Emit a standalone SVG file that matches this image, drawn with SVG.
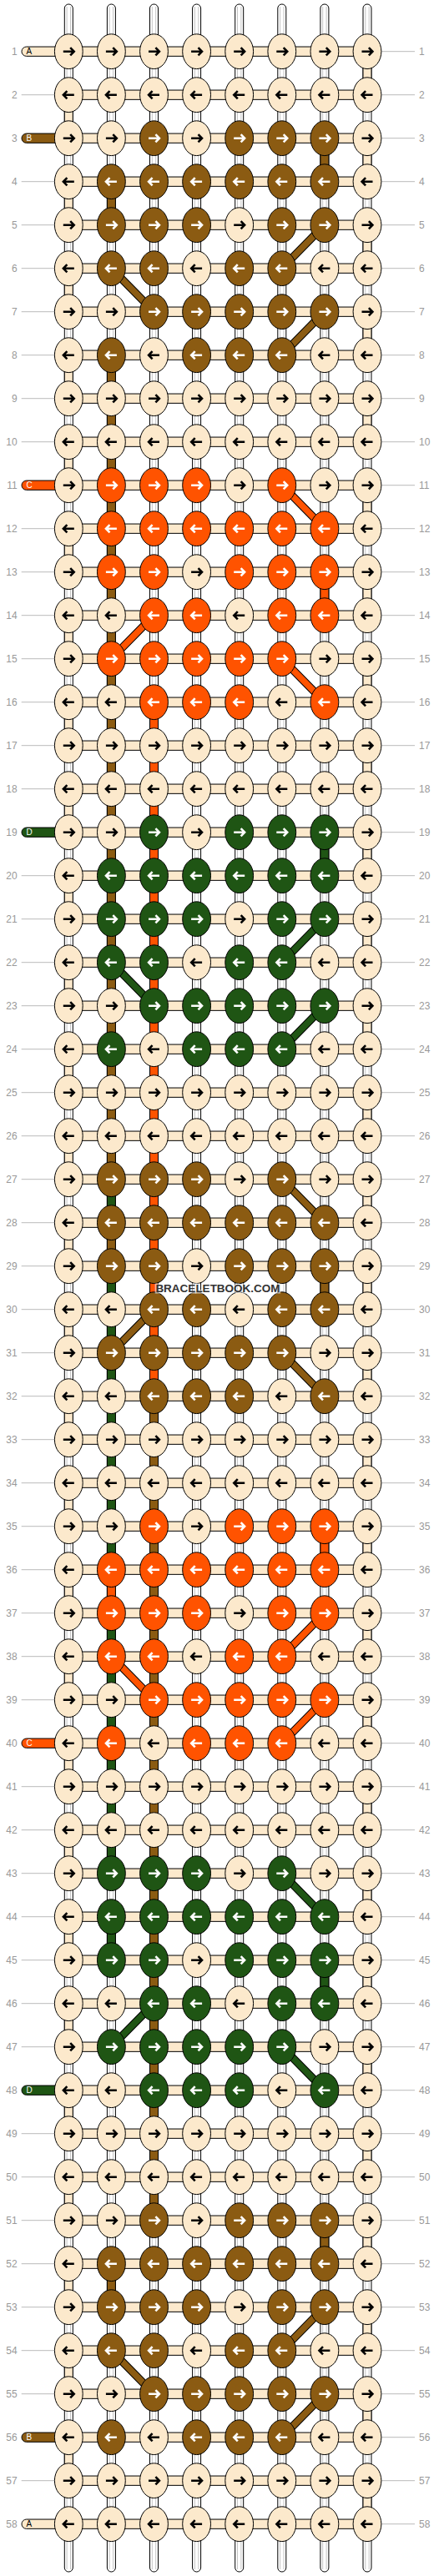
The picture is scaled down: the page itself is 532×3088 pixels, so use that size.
<svg xmlns="http://www.w3.org/2000/svg" width="532" height="3088" viewBox="0 0 532 3088">
<style>
.lb{font-family:"Liberation Sans",Arial,sans-serif;font-size:12px;fill:#999}
.e{text-anchor:end}
.gl{stroke:#bbb;stroke-width:1;fill:none}
.vs{stroke:#000;stroke-width:1}
.fa{fill:#FCE9CC}.fb{fill:#8B5B12}.fo{fill:#FF5300}.fg{fill:#1F5514}
.do{stroke:#000;stroke-width:9.6;fill:none}
.di{stroke-width:7.6;fill:none}
.sb{stroke:#000;stroke-width:1}
.sl{font-family:"Liberation Sans",Arial,sans-serif;font-size:10px}
</style>
<defs>
<ellipse id="ke" rx="16.9" ry="20.9" stroke="#000" stroke-width="1"/>
<path id="ar" d="M-6.5,0H6M1.9,-4.6L6.4,0L1.9,4.6" fill="none" stroke-width="2.6"/>
<path id="al" d="M6.5,0H-6M-1.9,-4.6L-6.4,0L-1.9,4.6" fill="none" stroke-width="2.6"/>
<g id="LR"><use href="#ke" fill="#FCE9CC"/><use href="#ar" stroke="#000"/></g>
<g id="LL"><use href="#ke" fill="#FCE9CC"/><use href="#al" stroke="#000"/></g>
<g id="BR"><use href="#ke" fill="#8B5B12"/><use href="#ar" stroke="#fff"/></g>
<g id="BL"><use href="#ke" fill="#8B5B12"/><use href="#al" stroke="#fff"/></g>
<g id="OR"><use href="#ke" fill="#FF5300"/><use href="#ar" stroke="#fff"/></g>
<g id="OL"><use href="#ke" fill="#FF5300"/><use href="#al" stroke="#fff"/></g>
<g id="GR"><use href="#ke" fill="#1F5514"/><use href="#ar" stroke="#fff"/></g>
<g id="GL"><use href="#ke" fill="#1F5514"/><use href="#al" stroke="#fff"/></g>
<rect id="hb" x="82.3" y="-5.65" width="357.7" height="11.3" fill="#FCE9CC" stroke="#000" stroke-width="1"/>
<g id="col"><rect x="-5" y="5" width="10" height="3078" rx="5" fill="#fff" stroke="#000" stroke-width="1"/><path d="M-2.2,8V3080M2.2,8V3080" stroke="#c4c4c4" stroke-width="1"/></g>
</defs>
<g id="connectors">
<g id="strings">
<use href="#col" x="82.3"/><use href="#col" x="133.4"/><use href="#col" x="184.5"/><use href="#col" x="235.6"/><use href="#col" x="286.7"/><use href="#col" x="337.8"/><use href="#col" x="388.9"/><use href="#col" x="440"/>
</g>
<g transform="translate(0,61.7)">
<path class="vs fa" d="M435,0h10v52h-10zM435,104h10v52h-10zM435,208h10v52h-10zM435,312h10v52h-10zM435,416h10v52h-10zM435,520h10v52h-10zM435,624h10v52h-10zM435,728h10v52h-10zM435,832h10v52h-10zM435,936h10v52h-10zM435,1040h10v52h-10zM435,1144h10v52h-10zM435,1248h10v52h-10zM435,1352h10v52h-10zM435,1456h10v52h-10zM435,1560h10v52h-10zM435,1664h10v52h-10zM435,1768h10v52h-10zM435,1872h10v52h-10zM435,1976h10v52h-10zM435,2080h10v52h-10zM435,2184h10v52h-10zM435,2288h10v52h-10zM435,2392h10v52h-10zM435,2496h10v52h-10zM435,2600h10v52h-10zM435,2704h10v52h-10zM435,2808h10v52h-10zM435,2912h10v52h-10zM77.3,52h10v52h-10zM77.3,156h10v52h-10zM77.3,260h10v52h-10zM77.3,364h10v52h-10zM77.3,468h10v52h-10zM77.3,572h10v52h-10zM77.3,676h10v52h-10zM77.3,780h10v52h-10zM77.3,884h10v52h-10zM77.3,988h10v52h-10zM77.3,1092h10v52h-10zM77.3,1196h10v52h-10zM77.3,1300h10v52h-10zM77.3,1404h10v52h-10zM77.3,1508h10v52h-10zM77.3,1612h10v52h-10zM77.3,1716h10v52h-10zM77.3,1820h10v52h-10zM77.3,1924h10v52h-10zM77.3,2028h10v52h-10zM77.3,2132h10v52h-10zM77.3,2236h10v52h-10zM77.3,2340h10v52h-10zM77.3,2444h10v52h-10zM77.3,2548h10v52h-10zM77.3,2652h10v52h-10zM77.3,2756h10v52h-10zM77.3,2860h10v52h-10z"/>
<path class="vs fb" d="M383.9,104h10v52h-10zM383.9,1456h10v52h-10zM383.9,2600h10v52h-10zM128.4,156h10v52h-10zM128.4,364h10v988h-10zM128.4,1404h10v52h-10zM128.4,2652h10v52h-10zM179.5,1612h10v988h-10z"/>
<path class="vs fg" d="M128.4,1352h10v52h-10zM128.4,1456h10v364h-10zM128.4,1872h10v312h-10zM128.4,2236h10v52h-10zM383.9,936h10v52h-10zM383.9,2288h10v52h-10z"/>
<path class="vs fo" d="M128.4,1820h10v52h-10zM179.5,780h10v832h-10zM383.9,624h10v52h-10zM383.9,1768h10v52h-10z"/>
<g id="rowbars">
<use href="#hb" y="0"/><use href="#hb" y="52"/><use href="#hb" y="104"/><use href="#hb" y="156"/><use href="#hb" y="208"/><use href="#hb" y="260"/><use href="#hb" y="312"/><use href="#hb" y="364"/><use href="#hb" y="416"/><use href="#hb" y="468"/><use href="#hb" y="520"/><use href="#hb" y="572"/><use href="#hb" y="624"/><use href="#hb" y="676"/><use href="#hb" y="728"/><use href="#hb" y="780"/><use href="#hb" y="832"/><use href="#hb" y="884"/><use href="#hb" y="936"/><use href="#hb" y="988"/><use href="#hb" y="1040"/><use href="#hb" y="1092"/><use href="#hb" y="1144"/><use href="#hb" y="1196"/><use href="#hb" y="1248"/><use href="#hb" y="1300"/><use href="#hb" y="1352"/><use href="#hb" y="1404"/><use href="#hb" y="1456"/><use href="#hb" y="1508"/><use href="#hb" y="1560"/><use href="#hb" y="1612"/><use href="#hb" y="1664"/><use href="#hb" y="1716"/><use href="#hb" y="1768"/><use href="#hb" y="1820"/><use href="#hb" y="1872"/><use href="#hb" y="1924"/><use href="#hb" y="1976"/><use href="#hb" y="2028"/><use href="#hb" y="2080"/><use href="#hb" y="2132"/><use href="#hb" y="2184"/><use href="#hb" y="2236"/><use href="#hb" y="2288"/><use href="#hb" y="2340"/><use href="#hb" y="2392"/><use href="#hb" y="2444"/><use href="#hb" y="2496"/><use href="#hb" y="2548"/><use href="#hb" y="2600"/><use href="#hb" y="2652"/><use href="#hb" y="2704"/><use href="#hb" y="2756"/><use href="#hb" y="2808"/><use href="#hb" y="2860"/><use href="#hb" y="2912"/><use href="#hb" y="2964"/>
</g>
<g id="diagonals">
<path class="do" d="M388.9,208L337.8,260M133.4,260L184.5,312M388.9,312L337.8,364M388.9,1040L337.8,1092M133.4,1092L184.5,1144M388.9,1144L337.8,1196M388.9,1872L337.8,1924M133.4,1924L184.5,1976M388.9,1976L337.8,2028M388.9,2704L337.8,2756M133.4,2756L184.5,2808M388.9,2808L337.8,2860M337.8,520L388.9,572M184.5,676L133.4,728M337.8,728L388.9,780M337.8,1352L388.9,1404M184.5,1508L133.4,1560M337.8,1560L388.9,1612M337.8,2184L388.9,2236M184.5,2340L133.4,2392M337.8,2392L388.9,2444"/>
<path class="di" stroke="#8B5B12" d="M388.9,208L337.8,260M133.4,260L184.5,312M388.9,312L337.8,364M388.9,2704L337.8,2756M133.4,2756L184.5,2808M388.9,2808L337.8,2860M337.8,1352L388.9,1404M184.5,1508L133.4,1560M337.8,1560L388.9,1612"/>
<path class="di" stroke="#1F5514" d="M388.9,1040L337.8,1092M133.4,1092L184.5,1144M388.9,1144L337.8,1196M337.8,2184L388.9,2236M184.5,2340L133.4,2392M337.8,2392L388.9,2444"/>
<path class="di" stroke="#FF5300" d="M388.9,1872L337.8,1924M133.4,1924L184.5,1976M388.9,1976L337.8,2028M337.8,520L388.9,572M184.5,676L133.4,728M337.8,728L388.9,780"/>
</g>
</g>
</g>
<g id="rows">
<g id="row1" transform="translate(0,61.7)"><path class="gl" d="M457,0H497"/><text class="lb e" x="20.7" y="4.3">1</text><text class="lb" x="502" y="4.3">1</text><rect class="sb fa" x="26" y="-5.65" width="60" height="11.3" rx="5.65"/><text class="sl" x="31.5" y="3.6" fill="#000">A</text>
<g id="k1-1"><use href="#LR" x="82.3"/></g><g id="k1-2"><use href="#LR" x="133.4"/></g><g id="k1-3"><use href="#LR" x="184.5"/></g><g id="k1-4"><use href="#LR" x="235.6"/></g><g id="k1-5"><use href="#LR" x="286.7"/></g><g id="k1-6"><use href="#LR" x="337.8"/></g><g id="k1-7"><use href="#LR" x="388.9"/></g><g id="k1-8"><use href="#LR" x="440"/></g></g>
<g id="row2" transform="translate(0,113.7)"><path class="gl" d="M25.7,0H66M457,0H497"/><text class="lb e" x="20.7" y="4.3">2</text><text class="lb" x="502" y="4.3">2</text>
<g id="k2-1"><use href="#LL" x="82.3"/></g><g id="k2-2"><use href="#LL" x="133.4"/></g><g id="k2-3"><use href="#LL" x="184.5"/></g><g id="k2-4"><use href="#LL" x="235.6"/></g><g id="k2-5"><use href="#LL" x="286.7"/></g><g id="k2-6"><use href="#LL" x="337.8"/></g><g id="k2-7"><use href="#LL" x="388.9"/></g><g id="k2-8"><use href="#LL" x="440"/></g></g>
<g id="row3" transform="translate(0,165.7)"><path class="gl" d="M457,0H497"/><text class="lb e" x="20.7" y="4.3">3</text><text class="lb" x="502" y="4.3">3</text><rect class="sb fb" x="26" y="-5.65" width="60" height="11.3" rx="5.65"/><text class="sl" x="31.5" y="3.6" fill="#fff">B</text>
<g id="k3-1"><use href="#LR" x="82.3"/></g><g id="k3-2"><use href="#LR" x="133.4"/></g><g id="k3-3"><use href="#BR" x="184.5"/></g><g id="k3-4"><use href="#LR" x="235.6"/></g><g id="k3-5"><use href="#BR" x="286.7"/></g><g id="k3-6"><use href="#BR" x="337.8"/></g><g id="k3-7"><use href="#BR" x="388.9"/></g><g id="k3-8"><use href="#LR" x="440"/></g></g>
<g id="row4" transform="translate(0,217.7)"><path class="gl" d="M25.7,0H66M457,0H497"/><text class="lb e" x="20.7" y="4.3">4</text><text class="lb" x="502" y="4.3">4</text>
<g id="k4-1"><use href="#LL" x="82.3"/></g><g id="k4-2"><use href="#BL" x="133.4"/></g><g id="k4-3"><use href="#BL" x="184.5"/></g><g id="k4-4"><use href="#BL" x="235.6"/></g><g id="k4-5"><use href="#BL" x="286.7"/></g><g id="k4-6"><use href="#BL" x="337.8"/></g><g id="k4-7"><use href="#BL" x="388.9"/></g><g id="k4-8"><use href="#LL" x="440"/></g></g>
<g id="row5" transform="translate(0,269.7)"><path class="gl" d="M25.7,0H66M457,0H497"/><text class="lb e" x="20.7" y="4.3">5</text><text class="lb" x="502" y="4.3">5</text>
<g id="k5-1"><use href="#LR" x="82.3"/></g><g id="k5-2"><use href="#BR" x="133.4"/></g><g id="k5-3"><use href="#BR" x="184.5"/></g><g id="k5-4"><use href="#BR" x="235.6"/></g><g id="k5-5"><use href="#LR" x="286.7"/></g><g id="k5-6"><use href="#BR" x="337.8"/></g><g id="k5-7"><use href="#BR" x="388.9"/></g><g id="k5-8"><use href="#LR" x="440"/></g></g>
<g id="row6" transform="translate(0,321.7)"><path class="gl" d="M25.7,0H66M457,0H497"/><text class="lb e" x="20.7" y="4.3">6</text><text class="lb" x="502" y="4.3">6</text>
<g id="k6-1"><use href="#LL" x="82.3"/></g><g id="k6-2"><use href="#BL" x="133.4"/></g><g id="k6-3"><use href="#BL" x="184.5"/></g><g id="k6-4"><use href="#LL" x="235.6"/></g><g id="k6-5"><use href="#BL" x="286.7"/></g><g id="k6-6"><use href="#BL" x="337.8"/></g><g id="k6-7"><use href="#LL" x="388.9"/></g><g id="k6-8"><use href="#LL" x="440"/></g></g>
<g id="row7" transform="translate(0,373.7)"><path class="gl" d="M25.7,0H66M457,0H497"/><text class="lb e" x="20.7" y="4.3">7</text><text class="lb" x="502" y="4.3">7</text>
<g id="k7-1"><use href="#LR" x="82.3"/></g><g id="k7-2"><use href="#LR" x="133.4"/></g><g id="k7-3"><use href="#BR" x="184.5"/></g><g id="k7-4"><use href="#BR" x="235.6"/></g><g id="k7-5"><use href="#BR" x="286.7"/></g><g id="k7-6"><use href="#BR" x="337.8"/></g><g id="k7-7"><use href="#BR" x="388.9"/></g><g id="k7-8"><use href="#LR" x="440"/></g></g>
<g id="row8" transform="translate(0,425.7)"><path class="gl" d="M25.7,0H66M457,0H497"/><text class="lb e" x="20.7" y="4.3">8</text><text class="lb" x="502" y="4.3">8</text>
<g id="k8-1"><use href="#LL" x="82.3"/></g><g id="k8-2"><use href="#BL" x="133.4"/></g><g id="k8-3"><use href="#LL" x="184.5"/></g><g id="k8-4"><use href="#BL" x="235.6"/></g><g id="k8-5"><use href="#BL" x="286.7"/></g><g id="k8-6"><use href="#BL" x="337.8"/></g><g id="k8-7"><use href="#LL" x="388.9"/></g><g id="k8-8"><use href="#LL" x="440"/></g></g>
<g id="row9" transform="translate(0,477.7)"><path class="gl" d="M25.7,0H66M457,0H497"/><text class="lb e" x="20.7" y="4.3">9</text><text class="lb" x="502" y="4.3">9</text>
<g id="k9-1"><use href="#LR" x="82.3"/></g><g id="k9-2"><use href="#LR" x="133.4"/></g><g id="k9-3"><use href="#LR" x="184.5"/></g><g id="k9-4"><use href="#LR" x="235.6"/></g><g id="k9-5"><use href="#LR" x="286.7"/></g><g id="k9-6"><use href="#LR" x="337.8"/></g><g id="k9-7"><use href="#LR" x="388.9"/></g><g id="k9-8"><use href="#LR" x="440"/></g></g>
<g id="row10" transform="translate(0,529.7)"><path class="gl" d="M25.7,0H66M457,0H497"/><text class="lb e" x="20.7" y="4.3">10</text><text class="lb" x="502" y="4.3">10</text>
<g id="k10-1"><use href="#LL" x="82.3"/></g><g id="k10-2"><use href="#LL" x="133.4"/></g><g id="k10-3"><use href="#LL" x="184.5"/></g><g id="k10-4"><use href="#LL" x="235.6"/></g><g id="k10-5"><use href="#LL" x="286.7"/></g><g id="k10-6"><use href="#LL" x="337.8"/></g><g id="k10-7"><use href="#LL" x="388.9"/></g><g id="k10-8"><use href="#LL" x="440"/></g></g>
<g id="row11" transform="translate(0,581.7)"><path class="gl" d="M457,0H497"/><text class="lb e" x="20.7" y="4.3">11</text><text class="lb" x="502" y="4.3">11</text><rect class="sb fo" x="26" y="-5.65" width="60" height="11.3" rx="5.65"/><text class="sl" x="31.5" y="3.6" fill="#fff">C</text>
<g id="k11-1"><use href="#LR" x="82.3"/></g><g id="k11-2"><use href="#OR" x="133.4"/></g><g id="k11-3"><use href="#OR" x="184.5"/></g><g id="k11-4"><use href="#OR" x="235.6"/></g><g id="k11-5"><use href="#LR" x="286.7"/></g><g id="k11-6"><use href="#OR" x="337.8"/></g><g id="k11-7"><use href="#LR" x="388.9"/></g><g id="k11-8"><use href="#LR" x="440"/></g></g>
<g id="row12" transform="translate(0,633.7)"><path class="gl" d="M25.7,0H66M457,0H497"/><text class="lb e" x="20.7" y="4.3">12</text><text class="lb" x="502" y="4.3">12</text>
<g id="k12-1"><use href="#LL" x="82.3"/></g><g id="k12-2"><use href="#OL" x="133.4"/></g><g id="k12-3"><use href="#OL" x="184.5"/></g><g id="k12-4"><use href="#OL" x="235.6"/></g><g id="k12-5"><use href="#OL" x="286.7"/></g><g id="k12-6"><use href="#OL" x="337.8"/></g><g id="k12-7"><use href="#OL" x="388.9"/></g><g id="k12-8"><use href="#LL" x="440"/></g></g>
<g id="row13" transform="translate(0,685.7)"><path class="gl" d="M25.7,0H66M457,0H497"/><text class="lb e" x="20.7" y="4.3">13</text><text class="lb" x="502" y="4.3">13</text>
<g id="k13-1"><use href="#LR" x="82.3"/></g><g id="k13-2"><use href="#OR" x="133.4"/></g><g id="k13-3"><use href="#OR" x="184.5"/></g><g id="k13-4"><use href="#LR" x="235.6"/></g><g id="k13-5"><use href="#OR" x="286.7"/></g><g id="k13-6"><use href="#OR" x="337.8"/></g><g id="k13-7"><use href="#OR" x="388.9"/></g><g id="k13-8"><use href="#LR" x="440"/></g></g>
<g id="row14" transform="translate(0,737.7)"><path class="gl" d="M25.7,0H66M457,0H497"/><text class="lb e" x="20.7" y="4.3">14</text><text class="lb" x="502" y="4.3">14</text>
<g id="k14-1"><use href="#LL" x="82.3"/></g><g id="k14-2"><use href="#LL" x="133.4"/></g><g id="k14-3"><use href="#OL" x="184.5"/></g><g id="k14-4"><use href="#OL" x="235.6"/></g><g id="k14-5"><use href="#LL" x="286.7"/></g><g id="k14-6"><use href="#OL" x="337.8"/></g><g id="k14-7"><use href="#OL" x="388.9"/></g><g id="k14-8"><use href="#LL" x="440"/></g></g>
<g id="row15" transform="translate(0,789.7)"><path class="gl" d="M25.7,0H66M457,0H497"/><text class="lb e" x="20.7" y="4.3">15</text><text class="lb" x="502" y="4.3">15</text>
<g id="k15-1"><use href="#LR" x="82.3"/></g><g id="k15-2"><use href="#OR" x="133.4"/></g><g id="k15-3"><use href="#OR" x="184.5"/></g><g id="k15-4"><use href="#OR" x="235.6"/></g><g id="k15-5"><use href="#OR" x="286.7"/></g><g id="k15-6"><use href="#OR" x="337.8"/></g><g id="k15-7"><use href="#LR" x="388.9"/></g><g id="k15-8"><use href="#LR" x="440"/></g></g>
<g id="row16" transform="translate(0,841.7)"><path class="gl" d="M25.7,0H66M457,0H497"/><text class="lb e" x="20.7" y="4.3">16</text><text class="lb" x="502" y="4.3">16</text>
<g id="k16-1"><use href="#LL" x="82.3"/></g><g id="k16-2"><use href="#LL" x="133.4"/></g><g id="k16-3"><use href="#OL" x="184.5"/></g><g id="k16-4"><use href="#OL" x="235.6"/></g><g id="k16-5"><use href="#OL" x="286.7"/></g><g id="k16-6"><use href="#LL" x="337.8"/></g><g id="k16-7"><use href="#OL" x="388.9"/></g><g id="k16-8"><use href="#LL" x="440"/></g></g>
<g id="row17" transform="translate(0,893.7)"><path class="gl" d="M25.7,0H66M457,0H497"/><text class="lb e" x="20.7" y="4.3">17</text><text class="lb" x="502" y="4.3">17</text>
<g id="k17-1"><use href="#LR" x="82.3"/></g><g id="k17-2"><use href="#LR" x="133.4"/></g><g id="k17-3"><use href="#LR" x="184.5"/></g><g id="k17-4"><use href="#LR" x="235.6"/></g><g id="k17-5"><use href="#LR" x="286.7"/></g><g id="k17-6"><use href="#LR" x="337.8"/></g><g id="k17-7"><use href="#LR" x="388.9"/></g><g id="k17-8"><use href="#LR" x="440"/></g></g>
<g id="row18" transform="translate(0,945.7)"><path class="gl" d="M25.7,0H66M457,0H497"/><text class="lb e" x="20.7" y="4.3">18</text><text class="lb" x="502" y="4.3">18</text>
<g id="k18-1"><use href="#LL" x="82.3"/></g><g id="k18-2"><use href="#LL" x="133.4"/></g><g id="k18-3"><use href="#LL" x="184.5"/></g><g id="k18-4"><use href="#LL" x="235.6"/></g><g id="k18-5"><use href="#LL" x="286.7"/></g><g id="k18-6"><use href="#LL" x="337.8"/></g><g id="k18-7"><use href="#LL" x="388.9"/></g><g id="k18-8"><use href="#LL" x="440"/></g></g>
<g id="row19" transform="translate(0,997.7)"><path class="gl" d="M457,0H497"/><text class="lb e" x="20.7" y="4.3">19</text><text class="lb" x="502" y="4.3">19</text><rect class="sb fg" x="26" y="-5.65" width="60" height="11.3" rx="5.65"/><text class="sl" x="31.5" y="3.6" fill="#fff">D</text>
<g id="k19-1"><use href="#LR" x="82.3"/></g><g id="k19-2"><use href="#LR" x="133.4"/></g><g id="k19-3"><use href="#GR" x="184.5"/></g><g id="k19-4"><use href="#LR" x="235.6"/></g><g id="k19-5"><use href="#GR" x="286.7"/></g><g id="k19-6"><use href="#GR" x="337.8"/></g><g id="k19-7"><use href="#GR" x="388.9"/></g><g id="k19-8"><use href="#LR" x="440"/></g></g>
<g id="row20" transform="translate(0,1049.7)"><path class="gl" d="M25.7,0H66M457,0H497"/><text class="lb e" x="20.7" y="4.3">20</text><text class="lb" x="502" y="4.3">20</text>
<g id="k20-1"><use href="#LL" x="82.3"/></g><g id="k20-2"><use href="#GL" x="133.4"/></g><g id="k20-3"><use href="#GL" x="184.5"/></g><g id="k20-4"><use href="#GL" x="235.6"/></g><g id="k20-5"><use href="#GL" x="286.7"/></g><g id="k20-6"><use href="#GL" x="337.8"/></g><g id="k20-7"><use href="#GL" x="388.9"/></g><g id="k20-8"><use href="#LL" x="440"/></g></g>
<g id="row21" transform="translate(0,1101.7)"><path class="gl" d="M25.7,0H66M457,0H497"/><text class="lb e" x="20.7" y="4.3">21</text><text class="lb" x="502" y="4.3">21</text>
<g id="k21-1"><use href="#LR" x="82.3"/></g><g id="k21-2"><use href="#GR" x="133.4"/></g><g id="k21-3"><use href="#GR" x="184.5"/></g><g id="k21-4"><use href="#GR" x="235.6"/></g><g id="k21-5"><use href="#LR" x="286.7"/></g><g id="k21-6"><use href="#GR" x="337.8"/></g><g id="k21-7"><use href="#GR" x="388.9"/></g><g id="k21-8"><use href="#LR" x="440"/></g></g>
<g id="row22" transform="translate(0,1153.7)"><path class="gl" d="M25.7,0H66M457,0H497"/><text class="lb e" x="20.7" y="4.3">22</text><text class="lb" x="502" y="4.3">22</text>
<g id="k22-1"><use href="#LL" x="82.3"/></g><g id="k22-2"><use href="#GL" x="133.4"/></g><g id="k22-3"><use href="#GL" x="184.5"/></g><g id="k22-4"><use href="#LL" x="235.6"/></g><g id="k22-5"><use href="#GL" x="286.7"/></g><g id="k22-6"><use href="#GL" x="337.8"/></g><g id="k22-7"><use href="#LL" x="388.9"/></g><g id="k22-8"><use href="#LL" x="440"/></g></g>
<g id="row23" transform="translate(0,1205.7)"><path class="gl" d="M25.7,0H66M457,0H497"/><text class="lb e" x="20.7" y="4.3">23</text><text class="lb" x="502" y="4.3">23</text>
<g id="k23-1"><use href="#LR" x="82.3"/></g><g id="k23-2"><use href="#LR" x="133.4"/></g><g id="k23-3"><use href="#GR" x="184.5"/></g><g id="k23-4"><use href="#GR" x="235.6"/></g><g id="k23-5"><use href="#GR" x="286.7"/></g><g id="k23-6"><use href="#GR" x="337.8"/></g><g id="k23-7"><use href="#GR" x="388.9"/></g><g id="k23-8"><use href="#LR" x="440"/></g></g>
<g id="row24" transform="translate(0,1257.7)"><path class="gl" d="M25.7,0H66M457,0H497"/><text class="lb e" x="20.7" y="4.3">24</text><text class="lb" x="502" y="4.3">24</text>
<g id="k24-1"><use href="#LL" x="82.3"/></g><g id="k24-2"><use href="#GL" x="133.4"/></g><g id="k24-3"><use href="#LL" x="184.5"/></g><g id="k24-4"><use href="#GL" x="235.6"/></g><g id="k24-5"><use href="#GL" x="286.7"/></g><g id="k24-6"><use href="#GL" x="337.8"/></g><g id="k24-7"><use href="#LL" x="388.9"/></g><g id="k24-8"><use href="#LL" x="440"/></g></g>
<g id="row25" transform="translate(0,1309.7)"><path class="gl" d="M25.7,0H66M457,0H497"/><text class="lb e" x="20.7" y="4.3">25</text><text class="lb" x="502" y="4.3">25</text>
<g id="k25-1"><use href="#LR" x="82.3"/></g><g id="k25-2"><use href="#LR" x="133.4"/></g><g id="k25-3"><use href="#LR" x="184.5"/></g><g id="k25-4"><use href="#LR" x="235.6"/></g><g id="k25-5"><use href="#LR" x="286.7"/></g><g id="k25-6"><use href="#LR" x="337.8"/></g><g id="k25-7"><use href="#LR" x="388.9"/></g><g id="k25-8"><use href="#LR" x="440"/></g></g>
<g id="row26" transform="translate(0,1361.7)"><path class="gl" d="M25.7,0H66M457,0H497"/><text class="lb e" x="20.7" y="4.3">26</text><text class="lb" x="502" y="4.3">26</text>
<g id="k26-1"><use href="#LL" x="82.3"/></g><g id="k26-2"><use href="#LL" x="133.4"/></g><g id="k26-3"><use href="#LL" x="184.5"/></g><g id="k26-4"><use href="#LL" x="235.6"/></g><g id="k26-5"><use href="#LL" x="286.7"/></g><g id="k26-6"><use href="#LL" x="337.8"/></g><g id="k26-7"><use href="#LL" x="388.9"/></g><g id="k26-8"><use href="#LL" x="440"/></g></g>
<g id="row27" transform="translate(0,1413.7)"><path class="gl" d="M25.7,0H66M457,0H497"/><text class="lb e" x="20.7" y="4.3">27</text><text class="lb" x="502" y="4.3">27</text>
<g id="k27-1"><use href="#LR" x="82.3"/></g><g id="k27-2"><use href="#BR" x="133.4"/></g><g id="k27-3"><use href="#BR" x="184.5"/></g><g id="k27-4"><use href="#BR" x="235.6"/></g><g id="k27-5"><use href="#LR" x="286.7"/></g><g id="k27-6"><use href="#BR" x="337.8"/></g><g id="k27-7"><use href="#LR" x="388.9"/></g><g id="k27-8"><use href="#LR" x="440"/></g></g>
<g id="row28" transform="translate(0,1465.7)"><path class="gl" d="M25.7,0H66M457,0H497"/><text class="lb e" x="20.7" y="4.3">28</text><text class="lb" x="502" y="4.3">28</text>
<g id="k28-1"><use href="#LL" x="82.3"/></g><g id="k28-2"><use href="#BL" x="133.4"/></g><g id="k28-3"><use href="#BL" x="184.5"/></g><g id="k28-4"><use href="#BL" x="235.6"/></g><g id="k28-5"><use href="#BL" x="286.7"/></g><g id="k28-6"><use href="#BL" x="337.8"/></g><g id="k28-7"><use href="#BL" x="388.9"/></g><g id="k28-8"><use href="#LL" x="440"/></g></g>
<g id="row29" transform="translate(0,1517.7)"><path class="gl" d="M25.7,0H66M457,0H497"/><text class="lb e" x="20.7" y="4.3">29</text><text class="lb" x="502" y="4.3">29</text>
<g id="k29-1"><use href="#LR" x="82.3"/></g><g id="k29-2"><use href="#BR" x="133.4"/></g><g id="k29-3"><use href="#BR" x="184.5"/></g><g id="k29-4"><use href="#LR" x="235.6"/></g><g id="k29-5"><use href="#BR" x="286.7"/></g><g id="k29-6"><use href="#BR" x="337.8"/></g><g id="k29-7"><use href="#BR" x="388.9"/></g><g id="k29-8"><use href="#LR" x="440"/></g></g>
<g id="row30" transform="translate(0,1569.7)"><path class="gl" d="M25.7,0H66M457,0H497"/><text class="lb e" x="20.7" y="4.3">30</text><text class="lb" x="502" y="4.3">30</text>
<g id="k30-1"><use href="#LL" x="82.3"/></g><g id="k30-2"><use href="#LL" x="133.4"/></g><g id="k30-3"><use href="#BL" x="184.5"/></g><g id="k30-4"><use href="#BL" x="235.6"/></g><g id="k30-5"><use href="#LL" x="286.7"/></g><g id="k30-6"><use href="#BL" x="337.8"/></g><g id="k30-7"><use href="#BL" x="388.9"/></g><g id="k30-8"><use href="#LL" x="440"/></g></g>
<g id="row31" transform="translate(0,1621.7)"><path class="gl" d="M25.7,0H66M457,0H497"/><text class="lb e" x="20.7" y="4.3">31</text><text class="lb" x="502" y="4.3">31</text>
<g id="k31-1"><use href="#LR" x="82.3"/></g><g id="k31-2"><use href="#BR" x="133.4"/></g><g id="k31-3"><use href="#BR" x="184.5"/></g><g id="k31-4"><use href="#BR" x="235.6"/></g><g id="k31-5"><use href="#BR" x="286.7"/></g><g id="k31-6"><use href="#BR" x="337.8"/></g><g id="k31-7"><use href="#LR" x="388.9"/></g><g id="k31-8"><use href="#LR" x="440"/></g></g>
<g id="row32" transform="translate(0,1673.7)"><path class="gl" d="M25.7,0H66M457,0H497"/><text class="lb e" x="20.7" y="4.3">32</text><text class="lb" x="502" y="4.3">32</text>
<g id="k32-1"><use href="#LL" x="82.3"/></g><g id="k32-2"><use href="#LL" x="133.4"/></g><g id="k32-3"><use href="#BL" x="184.5"/></g><g id="k32-4"><use href="#BL" x="235.6"/></g><g id="k32-5"><use href="#BL" x="286.7"/></g><g id="k32-6"><use href="#LL" x="337.8"/></g><g id="k32-7"><use href="#BL" x="388.9"/></g><g id="k32-8"><use href="#LL" x="440"/></g></g>
<g id="row33" transform="translate(0,1725.7)"><path class="gl" d="M25.7,0H66M457,0H497"/><text class="lb e" x="20.7" y="4.3">33</text><text class="lb" x="502" y="4.3">33</text>
<g id="k33-1"><use href="#LR" x="82.3"/></g><g id="k33-2"><use href="#LR" x="133.4"/></g><g id="k33-3"><use href="#LR" x="184.5"/></g><g id="k33-4"><use href="#LR" x="235.6"/></g><g id="k33-5"><use href="#LR" x="286.7"/></g><g id="k33-6"><use href="#LR" x="337.8"/></g><g id="k33-7"><use href="#LR" x="388.9"/></g><g id="k33-8"><use href="#LR" x="440"/></g></g>
<g id="row34" transform="translate(0,1777.7)"><path class="gl" d="M25.7,0H66M457,0H497"/><text class="lb e" x="20.7" y="4.3">34</text><text class="lb" x="502" y="4.3">34</text>
<g id="k34-1"><use href="#LL" x="82.3"/></g><g id="k34-2"><use href="#LL" x="133.4"/></g><g id="k34-3"><use href="#LL" x="184.5"/></g><g id="k34-4"><use href="#LL" x="235.6"/></g><g id="k34-5"><use href="#LL" x="286.7"/></g><g id="k34-6"><use href="#LL" x="337.8"/></g><g id="k34-7"><use href="#LL" x="388.9"/></g><g id="k34-8"><use href="#LL" x="440"/></g></g>
<g id="row35" transform="translate(0,1829.7)"><path class="gl" d="M25.7,0H66M457,0H497"/><text class="lb e" x="20.7" y="4.3">35</text><text class="lb" x="502" y="4.3">35</text>
<g id="k35-1"><use href="#LR" x="82.3"/></g><g id="k35-2"><use href="#LR" x="133.4"/></g><g id="k35-3"><use href="#OR" x="184.5"/></g><g id="k35-4"><use href="#LR" x="235.6"/></g><g id="k35-5"><use href="#OR" x="286.7"/></g><g id="k35-6"><use href="#OR" x="337.8"/></g><g id="k35-7"><use href="#OR" x="388.9"/></g><g id="k35-8"><use href="#LR" x="440"/></g></g>
<g id="row36" transform="translate(0,1881.7)"><path class="gl" d="M25.7,0H66M457,0H497"/><text class="lb e" x="20.7" y="4.3">36</text><text class="lb" x="502" y="4.3">36</text>
<g id="k36-1"><use href="#LL" x="82.3"/></g><g id="k36-2"><use href="#OL" x="133.4"/></g><g id="k36-3"><use href="#OL" x="184.5"/></g><g id="k36-4"><use href="#OL" x="235.6"/></g><g id="k36-5"><use href="#OL" x="286.7"/></g><g id="k36-6"><use href="#OL" x="337.8"/></g><g id="k36-7"><use href="#OL" x="388.9"/></g><g id="k36-8"><use href="#LL" x="440"/></g></g>
<g id="row37" transform="translate(0,1933.7)"><path class="gl" d="M25.7,0H66M457,0H497"/><text class="lb e" x="20.7" y="4.3">37</text><text class="lb" x="502" y="4.3">37</text>
<g id="k37-1"><use href="#LR" x="82.3"/></g><g id="k37-2"><use href="#OR" x="133.4"/></g><g id="k37-3"><use href="#OR" x="184.5"/></g><g id="k37-4"><use href="#OR" x="235.6"/></g><g id="k37-5"><use href="#LR" x="286.7"/></g><g id="k37-6"><use href="#OR" x="337.8"/></g><g id="k37-7"><use href="#OR" x="388.9"/></g><g id="k37-8"><use href="#LR" x="440"/></g></g>
<g id="row38" transform="translate(0,1985.7)"><path class="gl" d="M25.7,0H66M457,0H497"/><text class="lb e" x="20.7" y="4.3">38</text><text class="lb" x="502" y="4.3">38</text>
<g id="k38-1"><use href="#LL" x="82.3"/></g><g id="k38-2"><use href="#OL" x="133.4"/></g><g id="k38-3"><use href="#OL" x="184.5"/></g><g id="k38-4"><use href="#LL" x="235.6"/></g><g id="k38-5"><use href="#OL" x="286.7"/></g><g id="k38-6"><use href="#OL" x="337.8"/></g><g id="k38-7"><use href="#LL" x="388.9"/></g><g id="k38-8"><use href="#LL" x="440"/></g></g>
<g id="row39" transform="translate(0,2037.7)"><path class="gl" d="M25.7,0H66M457,0H497"/><text class="lb e" x="20.7" y="4.3">39</text><text class="lb" x="502" y="4.3">39</text>
<g id="k39-1"><use href="#LR" x="82.3"/></g><g id="k39-2"><use href="#LR" x="133.4"/></g><g id="k39-3"><use href="#OR" x="184.5"/></g><g id="k39-4"><use href="#OR" x="235.6"/></g><g id="k39-5"><use href="#OR" x="286.7"/></g><g id="k39-6"><use href="#OR" x="337.8"/></g><g id="k39-7"><use href="#OR" x="388.9"/></g><g id="k39-8"><use href="#LR" x="440"/></g></g>
<g id="row40" transform="translate(0,2089.7)"><path class="gl" d="M457,0H497"/><text class="lb e" x="20.7" y="4.3">40</text><text class="lb" x="502" y="4.3">40</text><rect class="sb fo" x="26" y="-5.65" width="60" height="11.3" rx="5.65"/><text class="sl" x="31.5" y="3.6" fill="#fff">C</text>
<g id="k40-1"><use href="#LL" x="82.3"/></g><g id="k40-2"><use href="#OL" x="133.4"/></g><g id="k40-3"><use href="#LL" x="184.5"/></g><g id="k40-4"><use href="#OL" x="235.6"/></g><g id="k40-5"><use href="#OL" x="286.7"/></g><g id="k40-6"><use href="#OL" x="337.8"/></g><g id="k40-7"><use href="#LL" x="388.9"/></g><g id="k40-8"><use href="#LL" x="440"/></g></g>
<g id="row41" transform="translate(0,2141.7)"><path class="gl" d="M25.7,0H66M457,0H497"/><text class="lb e" x="20.7" y="4.3">41</text><text class="lb" x="502" y="4.3">41</text>
<g id="k41-1"><use href="#LR" x="82.3"/></g><g id="k41-2"><use href="#LR" x="133.4"/></g><g id="k41-3"><use href="#LR" x="184.5"/></g><g id="k41-4"><use href="#LR" x="235.6"/></g><g id="k41-5"><use href="#LR" x="286.7"/></g><g id="k41-6"><use href="#LR" x="337.8"/></g><g id="k41-7"><use href="#LR" x="388.9"/></g><g id="k41-8"><use href="#LR" x="440"/></g></g>
<g id="row42" transform="translate(0,2193.7)"><path class="gl" d="M25.7,0H66M457,0H497"/><text class="lb e" x="20.7" y="4.3">42</text><text class="lb" x="502" y="4.3">42</text>
<g id="k42-1"><use href="#LL" x="82.3"/></g><g id="k42-2"><use href="#LL" x="133.4"/></g><g id="k42-3"><use href="#LL" x="184.5"/></g><g id="k42-4"><use href="#LL" x="235.6"/></g><g id="k42-5"><use href="#LL" x="286.7"/></g><g id="k42-6"><use href="#LL" x="337.8"/></g><g id="k42-7"><use href="#LL" x="388.9"/></g><g id="k42-8"><use href="#LL" x="440"/></g></g>
<g id="row43" transform="translate(0,2245.7)"><path class="gl" d="M25.7,0H66M457,0H497"/><text class="lb e" x="20.7" y="4.3">43</text><text class="lb" x="502" y="4.3">43</text>
<g id="k43-1"><use href="#LR" x="82.3"/></g><g id="k43-2"><use href="#GR" x="133.4"/></g><g id="k43-3"><use href="#GR" x="184.5"/></g><g id="k43-4"><use href="#GR" x="235.6"/></g><g id="k43-5"><use href="#LR" x="286.7"/></g><g id="k43-6"><use href="#GR" x="337.8"/></g><g id="k43-7"><use href="#LR" x="388.9"/></g><g id="k43-8"><use href="#LR" x="440"/></g></g>
<g id="row44" transform="translate(0,2297.7)"><path class="gl" d="M25.7,0H66M457,0H497"/><text class="lb e" x="20.7" y="4.3">44</text><text class="lb" x="502" y="4.3">44</text>
<g id="k44-1"><use href="#LL" x="82.3"/></g><g id="k44-2"><use href="#GL" x="133.4"/></g><g id="k44-3"><use href="#GL" x="184.5"/></g><g id="k44-4"><use href="#GL" x="235.6"/></g><g id="k44-5"><use href="#GL" x="286.7"/></g><g id="k44-6"><use href="#GL" x="337.8"/></g><g id="k44-7"><use href="#GL" x="388.9"/></g><g id="k44-8"><use href="#LL" x="440"/></g></g>
<g id="row45" transform="translate(0,2349.7)"><path class="gl" d="M25.7,0H66M457,0H497"/><text class="lb e" x="20.7" y="4.3">45</text><text class="lb" x="502" y="4.3">45</text>
<g id="k45-1"><use href="#LR" x="82.3"/></g><g id="k45-2"><use href="#GR" x="133.4"/></g><g id="k45-3"><use href="#GR" x="184.5"/></g><g id="k45-4"><use href="#LR" x="235.6"/></g><g id="k45-5"><use href="#GR" x="286.7"/></g><g id="k45-6"><use href="#GR" x="337.8"/></g><g id="k45-7"><use href="#GR" x="388.9"/></g><g id="k45-8"><use href="#LR" x="440"/></g></g>
<g id="row46" transform="translate(0,2401.7)"><path class="gl" d="M25.7,0H66M457,0H497"/><text class="lb e" x="20.7" y="4.3">46</text><text class="lb" x="502" y="4.3">46</text>
<g id="k46-1"><use href="#LL" x="82.3"/></g><g id="k46-2"><use href="#LL" x="133.4"/></g><g id="k46-3"><use href="#GL" x="184.5"/></g><g id="k46-4"><use href="#GL" x="235.6"/></g><g id="k46-5"><use href="#LL" x="286.7"/></g><g id="k46-6"><use href="#GL" x="337.8"/></g><g id="k46-7"><use href="#GL" x="388.9"/></g><g id="k46-8"><use href="#LL" x="440"/></g></g>
<g id="row47" transform="translate(0,2453.7)"><path class="gl" d="M25.7,0H66M457,0H497"/><text class="lb e" x="20.7" y="4.3">47</text><text class="lb" x="502" y="4.3">47</text>
<g id="k47-1"><use href="#LR" x="82.3"/></g><g id="k47-2"><use href="#GR" x="133.4"/></g><g id="k47-3"><use href="#GR" x="184.5"/></g><g id="k47-4"><use href="#GR" x="235.6"/></g><g id="k47-5"><use href="#GR" x="286.7"/></g><g id="k47-6"><use href="#GR" x="337.8"/></g><g id="k47-7"><use href="#LR" x="388.9"/></g><g id="k47-8"><use href="#LR" x="440"/></g></g>
<g id="row48" transform="translate(0,2505.7)"><path class="gl" d="M457,0H497"/><text class="lb e" x="20.7" y="4.3">48</text><text class="lb" x="502" y="4.3">48</text><rect class="sb fg" x="26" y="-5.65" width="60" height="11.3" rx="5.65"/><text class="sl" x="31.5" y="3.6" fill="#fff">D</text>
<g id="k48-1"><use href="#LL" x="82.3"/></g><g id="k48-2"><use href="#LL" x="133.4"/></g><g id="k48-3"><use href="#GL" x="184.5"/></g><g id="k48-4"><use href="#GL" x="235.6"/></g><g id="k48-5"><use href="#GL" x="286.7"/></g><g id="k48-6"><use href="#LL" x="337.8"/></g><g id="k48-7"><use href="#GL" x="388.9"/></g><g id="k48-8"><use href="#LL" x="440"/></g></g>
<g id="row49" transform="translate(0,2557.7)"><path class="gl" d="M25.7,0H66M457,0H497"/><text class="lb e" x="20.7" y="4.3">49</text><text class="lb" x="502" y="4.3">49</text>
<g id="k49-1"><use href="#LR" x="82.3"/></g><g id="k49-2"><use href="#LR" x="133.4"/></g><g id="k49-3"><use href="#LR" x="184.5"/></g><g id="k49-4"><use href="#LR" x="235.6"/></g><g id="k49-5"><use href="#LR" x="286.7"/></g><g id="k49-6"><use href="#LR" x="337.8"/></g><g id="k49-7"><use href="#LR" x="388.9"/></g><g id="k49-8"><use href="#LR" x="440"/></g></g>
<g id="row50" transform="translate(0,2609.7)"><path class="gl" d="M25.7,0H66M457,0H497"/><text class="lb e" x="20.7" y="4.3">50</text><text class="lb" x="502" y="4.3">50</text>
<g id="k50-1"><use href="#LL" x="82.3"/></g><g id="k50-2"><use href="#LL" x="133.4"/></g><g id="k50-3"><use href="#LL" x="184.5"/></g><g id="k50-4"><use href="#LL" x="235.6"/></g><g id="k50-5"><use href="#LL" x="286.7"/></g><g id="k50-6"><use href="#LL" x="337.8"/></g><g id="k50-7"><use href="#LL" x="388.9"/></g><g id="k50-8"><use href="#LL" x="440"/></g></g>
<g id="row51" transform="translate(0,2661.7)"><path class="gl" d="M25.7,0H66M457,0H497"/><text class="lb e" x="20.7" y="4.3">51</text><text class="lb" x="502" y="4.3">51</text>
<g id="k51-1"><use href="#LR" x="82.3"/></g><g id="k51-2"><use href="#LR" x="133.4"/></g><g id="k51-3"><use href="#BR" x="184.5"/></g><g id="k51-4"><use href="#LR" x="235.6"/></g><g id="k51-5"><use href="#BR" x="286.7"/></g><g id="k51-6"><use href="#BR" x="337.8"/></g><g id="k51-7"><use href="#BR" x="388.9"/></g><g id="k51-8"><use href="#LR" x="440"/></g></g>
<g id="row52" transform="translate(0,2713.7)"><path class="gl" d="M25.7,0H66M457,0H497"/><text class="lb e" x="20.7" y="4.3">52</text><text class="lb" x="502" y="4.3">52</text>
<g id="k52-1"><use href="#LL" x="82.3"/></g><g id="k52-2"><use href="#BL" x="133.4"/></g><g id="k52-3"><use href="#BL" x="184.5"/></g><g id="k52-4"><use href="#BL" x="235.6"/></g><g id="k52-5"><use href="#BL" x="286.7"/></g><g id="k52-6"><use href="#BL" x="337.8"/></g><g id="k52-7"><use href="#BL" x="388.9"/></g><g id="k52-8"><use href="#LL" x="440"/></g></g>
<g id="row53" transform="translate(0,2765.7)"><path class="gl" d="M25.7,0H66M457,0H497"/><text class="lb e" x="20.7" y="4.3">53</text><text class="lb" x="502" y="4.3">53</text>
<g id="k53-1"><use href="#LR" x="82.3"/></g><g id="k53-2"><use href="#BR" x="133.4"/></g><g id="k53-3"><use href="#BR" x="184.5"/></g><g id="k53-4"><use href="#BR" x="235.6"/></g><g id="k53-5"><use href="#LR" x="286.7"/></g><g id="k53-6"><use href="#BR" x="337.8"/></g><g id="k53-7"><use href="#BR" x="388.9"/></g><g id="k53-8"><use href="#LR" x="440"/></g></g>
<g id="row54" transform="translate(0,2817.7)"><path class="gl" d="M25.7,0H66M457,0H497"/><text class="lb e" x="20.7" y="4.3">54</text><text class="lb" x="502" y="4.3">54</text>
<g id="k54-1"><use href="#LL" x="82.3"/></g><g id="k54-2"><use href="#BL" x="133.4"/></g><g id="k54-3"><use href="#BL" x="184.5"/></g><g id="k54-4"><use href="#LL" x="235.6"/></g><g id="k54-5"><use href="#BL" x="286.7"/></g><g id="k54-6"><use href="#BL" x="337.8"/></g><g id="k54-7"><use href="#LL" x="388.9"/></g><g id="k54-8"><use href="#LL" x="440"/></g></g>
<g id="row55" transform="translate(0,2869.7)"><path class="gl" d="M25.7,0H66M457,0H497"/><text class="lb e" x="20.7" y="4.3">55</text><text class="lb" x="502" y="4.3">55</text>
<g id="k55-1"><use href="#LR" x="82.3"/></g><g id="k55-2"><use href="#LR" x="133.4"/></g><g id="k55-3"><use href="#BR" x="184.5"/></g><g id="k55-4"><use href="#BR" x="235.6"/></g><g id="k55-5"><use href="#BR" x="286.7"/></g><g id="k55-6"><use href="#BR" x="337.8"/></g><g id="k55-7"><use href="#BR" x="388.9"/></g><g id="k55-8"><use href="#LR" x="440"/></g></g>
<g id="row56" transform="translate(0,2921.7)"><path class="gl" d="M457,0H497"/><text class="lb e" x="20.7" y="4.3">56</text><text class="lb" x="502" y="4.3">56</text><rect class="sb fb" x="26" y="-5.65" width="60" height="11.3" rx="5.65"/><text class="sl" x="31.5" y="3.6" fill="#fff">B</text>
<g id="k56-1"><use href="#LL" x="82.3"/></g><g id="k56-2"><use href="#BL" x="133.4"/></g><g id="k56-3"><use href="#LL" x="184.5"/></g><g id="k56-4"><use href="#BL" x="235.6"/></g><g id="k56-5"><use href="#BL" x="286.7"/></g><g id="k56-6"><use href="#BL" x="337.8"/></g><g id="k56-7"><use href="#LL" x="388.9"/></g><g id="k56-8"><use href="#LL" x="440"/></g></g>
<g id="row57" transform="translate(0,2973.7)"><path class="gl" d="M25.7,0H66M457,0H497"/><text class="lb e" x="20.7" y="4.3">57</text><text class="lb" x="502" y="4.3">57</text>
<g id="k57-1"><use href="#LR" x="82.3"/></g><g id="k57-2"><use href="#LR" x="133.4"/></g><g id="k57-3"><use href="#LR" x="184.5"/></g><g id="k57-4"><use href="#LR" x="235.6"/></g><g id="k57-5"><use href="#LR" x="286.7"/></g><g id="k57-6"><use href="#LR" x="337.8"/></g><g id="k57-7"><use href="#LR" x="388.9"/></g><g id="k57-8"><use href="#LR" x="440"/></g></g>
<g id="row58" transform="translate(0,3025.7)"><path class="gl" d="M457,0H497"/><text class="lb e" x="20.7" y="4.3">58</text><text class="lb" x="502" y="4.3">58</text><rect class="sb fa" x="26" y="-5.65" width="60" height="11.3" rx="5.65"/><text class="sl" x="31.5" y="3.6" fill="#000">A</text>
<g id="k58-1"><use href="#LL" x="82.3"/></g><g id="k58-2"><use href="#LL" x="133.4"/></g><g id="k58-3"><use href="#LL" x="184.5"/></g><g id="k58-4"><use href="#LL" x="235.6"/></g><g id="k58-5"><use href="#LL" x="286.7"/></g><g id="k58-6"><use href="#LL" x="337.8"/></g><g id="k58-7"><use href="#LL" x="388.9"/></g><g id="k58-8"><use href="#LL" x="440"/></g></g>
</g>
<text x="261" y="1548.5" text-anchor="middle" font-family="Liberation Sans, Arial, sans-serif" font-size="13.5" font-weight="bold" fill="#333" stroke="#fff" stroke-width="3" stroke-opacity="0.6" paint-order="stroke">BRACELETBOOK.COM</text>
</svg>
